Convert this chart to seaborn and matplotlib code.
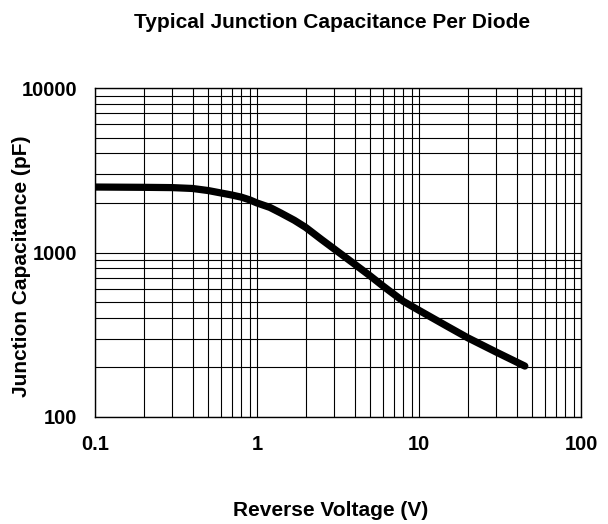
import matplotlib
matplotlib.use("Agg")
import matplotlib.pyplot as plt
import matplotlib.ticker as mticker
import seaborn as sns
import pandas as pd

# Data
voltage = [0.1, 0.2, 0.3, 0.4, 0.5, 0.6, 0.7, 0.8, 0.9, 1.0, 1.2, 1.4, 1.7, 2.0, 2.5,
           3.0, 4.0, 5.0, 6.0, 8.0, 10.0, 15.0, 20.0, 30.0, 45.0]
capacitance = [2500, 2490, 2480, 2450, 2380, 2300, 2235, 2170, 2090, 2000, 1880, 1740, 1570, 1420, 1200,
               1050, 850, 720, 625, 505, 445, 355, 303, 248, 204]

x_ticks = [0.1, 1, 10, 100]
x_tick_labels = ["0.1", "1", "10", "100"]
y_ticks = [100, 1000, 10000]
y_tick_labels = ["100", "1000", "10000"]

title = "Typical Junction Capacitance Per Diode"
x_label = "Reverse Voltage (V)"
y_label = "Junction Capacitance (pF)"

df = pd.DataFrame({"V": voltage, "C": capacitance})

sns.set_theme(style="white")
plt.rcParams["font.family"] = ["Liberation Sans", "DejaVu Sans"]
plt.rcParams["text.color"] = "black"
plt.rcParams["xtick.color"] = "black"
plt.rcParams["ytick.color"] = "black"

W, H = 608, 524
fig = plt.figure(figsize=(W / 100, H / 100), dpi=100)
left, right, top, bottom = 95, 581, 88, 417
ax = fig.add_axes([left / W, 1 - bottom / H, (right - left) / W, (bottom - top) / H])

ax.set_xscale("log")
ax.set_yscale("log")
ax.set_xlim(0.1, 100)
ax.set_ylim(100, 10000)

sns.lineplot(data=df, x="V", y="C", ax=ax, color="black", linewidth=5.2,
             estimator=None, sort=True, solid_capstyle="round", solid_joinstyle="round", zorder=5)

ax.xaxis.set_major_locator(mticker.FixedLocator(x_ticks))
ax.xaxis.set_major_formatter(mticker.FixedFormatter(x_tick_labels))
ax.yaxis.set_major_locator(mticker.FixedLocator(y_ticks))
ax.yaxis.set_major_formatter(mticker.FixedFormatter(y_tick_labels))
ax.xaxis.set_minor_locator(mticker.LogLocator(base=10, subs=range(2, 10)))
ax.yaxis.set_minor_locator(mticker.LogLocator(base=10, subs=range(2, 10)))
ax.xaxis.set_minor_formatter(mticker.NullFormatter())
ax.yaxis.set_minor_formatter(mticker.NullFormatter())

ax.grid(True, which="both", color="black", linewidth=0.8)
ax.set_axisbelow(True)
ax.tick_params(which="both", length=0)
ax.tick_params(axis="x", pad=13, labelsize=14.5, labelcolor="black")
ax.tick_params(axis="y", pad=13, labelsize=14.5, labelcolor="black")
for lab in ax.get_xticklabels() + ax.get_yticklabels():
    lab.set_fontweight("bold")

for s in ax.spines.values():
    s.set_color("black")
    s.set_linewidth(1.0)
    s.set_visible(True)

ax.set_xlabel("")
ax.set_ylabel("")
fig.text(332 / W, 1 - 22 / H, title, ha="center", va="center", fontsize=15, fontweight="bold", color="black")
fig.text(331 / W, 1 - 510 / H, x_label, ha="center", va="center", fontsize=15, fontweight="bold", color="black")
fig.text(22 / W, 1 - 266 / H, y_label, ha="center", va="center", rotation=90, fontsize=15, fontweight="bold", color="black")

fig.savefig("out.png", dpi=100)
